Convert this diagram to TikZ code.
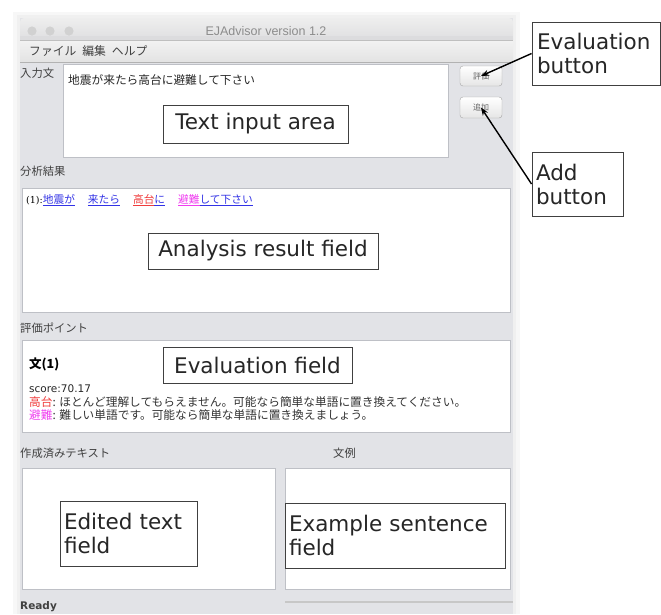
\documentclass[tikz,border=0pt]{standalone}
\usepackage{fontspec}
\setmainfont{DejaVu Sans}
\newfontfamily\jp{Noto Sans CJK JP}
\newfontfamily\ui{Liberation Sans}
\usetikzlibrary{arrows.meta}
\definecolor{winbg}{RGB}{226,227,231}
\definecolor{titletop}{RGB}{238,238,238}
\definecolor{titlebot}{RGB}{220,220,222}
\definecolor{lnk}{RGB}{50,50,230}
\definecolor{redw}{RGB}{240,60,60}
\definecolor{magw}{RGB}{240,60,240}
\definecolor{paneledge}{RGB}{190,192,198}
\begin{document}
\begin{tikzpicture}[x=1pt,y=-1pt,
  panel/.style={draw=paneledge, fill=white, line width=0.8pt, inner sep=0pt},
  callout/.style={draw=black!75, fill=white, line width=0.9pt, inner sep=4pt,
    font=\fontsize{21.5}{24}\selectfont, text=black!85},
  uibtn/.style={draw=black!35, rounded corners=3pt, top color=white, bottom color=black!10,
    inner sep=0pt, font=\jp\fontsize{8}{9}\selectfont, text=black!60},
  lbl/.style={anchor=west, inner sep=0pt, font=\jp\fontsize{11.3}{13}\selectfont, text=black!75},
  pointer/.style={-{Stealth[length=8pt,width=6pt]}, line width=1.4pt, black}]
\useasboundingbox (0,0) rectangle (661,614);
\fill[white] (0,0) rectangle (661,614);
% window shadow and body
\fill[black!3] (13,12) rectangle (520,614);
\fill[black!6] (17,15) rectangle (516,614);
\fill[winbg] (20,18) rectangle (513,614);
% title bar
\shade[top color=titletop, bottom color=titlebot, rounded corners=4pt] (20,18) rectangle (513,44);
\fill[titlebot] (20,36) rectangle (513,40);
\node[font=\ui\fontsize{12.5}{14}\selectfont, text=black!45] (title) at (266,31) {EJAdvisor version 1.2};
\fill[black!18] (32,31) circle (4.6);
\fill[black!18] (50,31) circle (4.6);
\fill[black!18] (69,31) circle (4.6);
% menu bar
\shade[top color=black!5, bottom color=black!11] (20,40) rectangle (513,62);
\draw[black!25] (20,40) -- (513,40);
\draw[black!30] (20,62) -- (513,62);
\node[lbl, font=\jp\fontsize{11.8}{13}\selectfont] (menu) at (29,51) {ファイル\hspace{6pt}編集\hspace{6pt}ヘルプ};
% input area
\node[lbl] (linp) at (20,73) {入力文};
\node[panel, minimum width=385pt, minimum height=93pt] (inp) at (255.5,110.5) {};
\node[lbl, text=black!85, font=\jp\fontsize{11.7}{13}\selectfont] (inptext) at (68,80) {地震が来たら高台に避難して下さい};
\node[uibtn, minimum width=42pt, minimum height=20pt] (evb) at (481,76) {評価};
\node[uibtn, minimum width=42pt, minimum height=21pt] (addb) at (481,107.5) {追加};
% analysis
\node[lbl] (lana) at (20,171) {分析結果};
\node[panel, minimum width=488pt, minimum height=124pt] (ana) at (266,250) {};
\node[anchor=west, inner sep=0pt, font=\jp\fontsize{10.7}{12}\selectfont] (anatext) at (26,200)
  {{\fontspec{DejaVu Serif}\fontsize{9.5}{11}\selectfont(1):}\textcolor{lnk}{\underline{地震が}}\hspace{13pt}\textcolor{lnk}{\underline{来たら}}\hspace{13pt}\textcolor{redw}{\underline{高台}}\textcolor{lnk}{\underline{に}}\hspace{13pt}\textcolor{magw}{\underline{避難}}\textcolor{lnk}{\underline{して下さい}}};
% evaluation
\node[lbl] (leva) at (20,328) {評価ポイント};
\node[panel, minimum width=488pt, minimum height=92pt] (eva) at (266,386) {};
\node[anchor=west, inner sep=0pt, font=\jp\bfseries\fontsize{12.5}{14}\selectfont] (bun) at (29,364) {文(1)};
\node[anchor=west, inner sep=0pt, font=\fontsize{10.5}{12}\selectfont, text=black!85] (score) at (29,389) {score:70.17};
\node[anchor=west, inner sep=0pt, font=\jp\fontsize{11.7}{13}\selectfont, text=black!80] (ev1) at (29,402)
  {\textcolor{redw}{高台}: ほとんど理解してもらえません。可能なら簡単な単語に置き換えてください。};
\node[anchor=west, inner sep=0pt, font=\jp\fontsize{11.7}{13}\selectfont, text=black!80] (ev2) at (29,415)
  {\textcolor{magw}{避難}: 難しい単語です。可能なら簡単な単語に置き換えましょう。};
% bottom panels
\node[lbl] (ledit) at (20,453) {作成済みテキスト};
\node[lbl] (lex) at (333,453) {文例};
\node[panel, minimum width=253pt, minimum height=121pt] (edit) at (148.5,528.5) {};
\node[panel, minimum width=225pt, minimum height=121pt] (ex) at (397.5,528.5) {};
\draw[black!22, line width=1.5pt] (285,602) -- (513,602);
\node[anchor=west, inner sep=0pt, font=\fontsize{10.5}{12}\selectfont\bfseries, text=black!75] (ready) at (20,607) {Ready};
% callouts
\node[callout, minimum width=185pt, minimum height=38pt] (tia) at (255.5,124) {Text input area};
\node[callout, minimum width=230pt, minimum height=36pt] (arf) at (263,251) {Analysis result field};
\node[callout, minimum width=189pt, minimum height=36pt] (evf) at (257.5,365) {Evaluation field};
\node[callout, minimum width=137pt, minimum height=65pt, align=left, text width=129pt] (etf) at (128.5,533.5) {Edited text\\field};
\node[callout, minimum width=220pt, minimum height=65pt, align=left, text width=212pt] (esf) at (395,535.5) {Example sentence\\field};
\node[callout, minimum width=128pt, minimum height=63pt, align=left, text width=118pt] (evl) at (596,53.5) {Evaluation\\button};
\node[callout, minimum width=91pt, minimum height=64pt, align=left, text width=83pt] (addl) at (577.5,184) {Add\\button};
% pointers
\draw[pointer] (evl.west) -- (evb.center);
\draw[pointer] (addl.west) -- (addb.center);
\end{tikzpicture}
\end{document}
